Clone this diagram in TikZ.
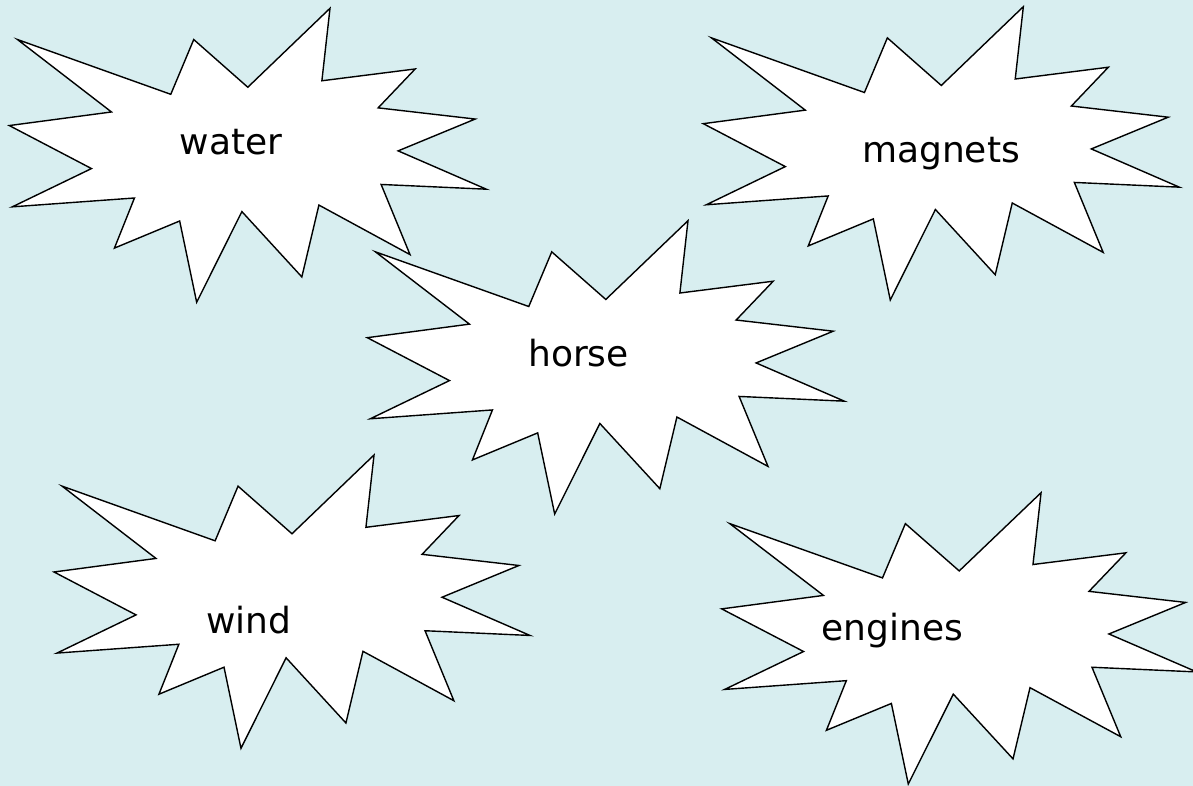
\documentclass[tikz,border=0pt]{standalone}
\usepackage{fontspec}
\setmainfont{DejaVu Sans}
\definecolor{bg}{RGB}{216,238,240}
\tikzset{
  boom/.style={draw=black, fill=white, line width=1.4pt, line join=miter},
  lbl/.style={font=\fontsize{36}{40}\selectfont, anchor=base, inner sep=0pt}
}
\newcommand\boomshape[4]{%
 \draw[boom, shift={(#1,#2)}, xscale=#3/216, yscale=#4/216]
  (108,58) -- (145.22,0) -- (141.55,53.25) -- (183.80,44.57) -- (167.02,73.15)
  -- (210.97,81.37) -- (176.07,104.75) -- (216,132.90) -- (168.37,129.42)
  -- (181.45,180.95) -- (140.20,144.57) -- (132.47,197.37) -- (105.32,149.35)
  -- (84.85,216) -- (77.15,156.27) -- (47.62,176.17) -- (56.67,139.37)
  -- (1.35,145.87) -- (37.22,117.75) -- (0,86.15) -- (46.27,76.17)
  -- (3.70,22.95) -- (73.12,63.20) -- (83.52,22.95) -- cycle;}
\begin{document}
\begin{tikzpicture}[x=1pt,y=-1pt]
\useasboundingbox (0,0) rectangle (1193,786);
\clip (0,0) rectangle (1193,786);
\fill[bg] (0,0) rectangle (1193,786);
\boomshape{9.3}{8.3}{477}{294}
\node[lbl] (water) at (231,155) {water};
\boomshape{703.3}{6.7}{476}{293.3}
\node[lbl] (magnets) at (941,163) {magnets};
\boomshape{367.3}{220.7}{477}{293.3}
\node[lbl] (horse) at (578.5,366) {horse};
\boomshape{54}{455}{476}{293.3}
\node[lbl] (wind) at (249,633.3) {wind};
\boomshape{721.7}{492.7}{475}{291.3}
\node[lbl] (engines) at (892.5,640.7) {engines};
\end{tikzpicture}
\end{document}
